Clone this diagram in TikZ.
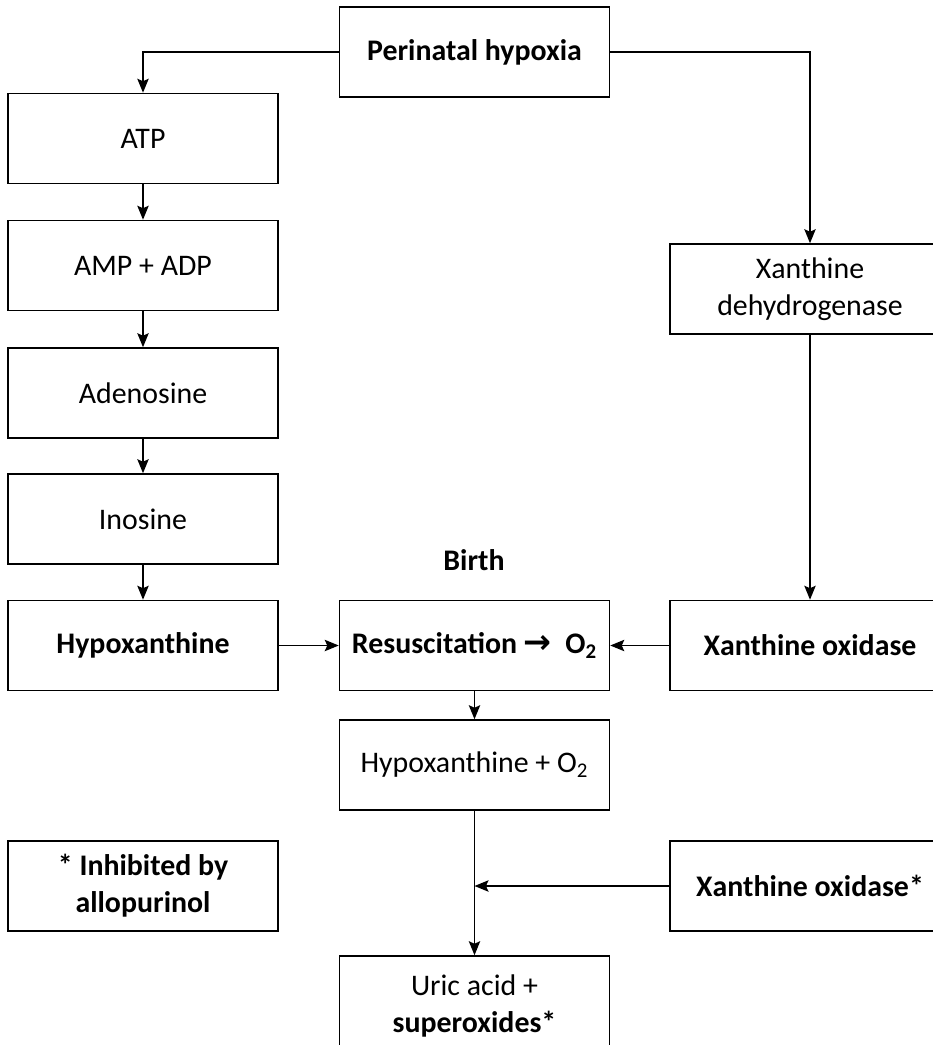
\documentclass[tikz,border=0pt]{standalone}
\usepackage{fontspec}
\setmainfont{Carlito}
\newfontfamily\arrowfont{DejaVu Sans}
\usetikzlibrary{arrows.meta, positioning}

\begin{document}
\begin{tikzpicture}[x=0.02cm, y=-0.02cm,
  box/.style={draw, line width=0.9pt, minimum width=5.4cm, minimum height=1.8cm,
              inner sep=2pt, align=center, font=\fontsize{17}{21}\selectfont},
  bbox/.style={box, font=\fontsize{17}{21}\selectfont\bfseries},
  conn/.style={-{Stealth[length=8pt, width=6.5pt, inset=1.5pt]}, line width=0.8pt},
]
\useasboundingbox (0,0) rectangle (933,1045);

% left column
\node[bbox] (peri) at (474.5,52) {Perinatal hypoxia};
\node[box] (atp) at (143,138.5) {ATP};
\node[box] (ampadp) at (143,265.5) {AMP + ADP};
\node[box] (adeno) at (143,393) {Adenosine};
\node[box] (inosine) at (143,519) {Inosine};
\node[bbox] (hypox) at (143,645.5) {Hypoxanthine};

% middle and right column
\node[box, minimum width=5.6cm] (xdh) at (810,289) {Xanthine\\dehydrogenase};
\node[font=\fontsize{17}{21}\selectfont\bfseries] (birth) at (474,560) {Birth};
\node[bbox] (resus) at (474.5,645.5) {Resuscitation {\arrowfont\fontsize{19}{21}\selectfont\bfseries →}\ \ O\textsubscript{2}};
\node[bbox, minimum width=5.6cm] (xo) at (810,645.5) {Xanthine oxidase};
\node[box] (hypoxo2) at (474.5,765) {Hypoxanthine + O\textsubscript{2}};

% bottom row
\node[bbox] (inhib) at (143,886) {* Inhibited by\\allopurinol};
\node[bbox, minimum width=5.6cm] (xostar) at (810,886) {Xanthine oxidase*};
\node[box, minimum height=2.0cm] (uric) at (474.5,1006) {Uric acid +\\\textbf{superoxides*}};

\draw[conn] (peri.west) -| (atp.north);
\draw[conn] (peri.east) -| (xdh.north);
\draw[conn] (atp) -- (ampadp);
\draw[conn] (ampadp) -- (adeno);
\draw[conn] (adeno) -- (inosine);
\draw[conn] (inosine) -- (hypox);
\draw[conn] (xdh) -- (xo);
\draw[conn] (hypox) -- (resus);
\draw[conn] (xo) -- (resus);
\draw[conn] (resus) -- (hypoxo2);
\draw[conn] (hypoxo2) -- (uric);

% enzyme joins the lower arrow
\coordinate (join) at (hypoxo2.south |- xostar.west);
\draw[conn] (xostar.west) -- (join);
\end{tikzpicture}
\end{document}
